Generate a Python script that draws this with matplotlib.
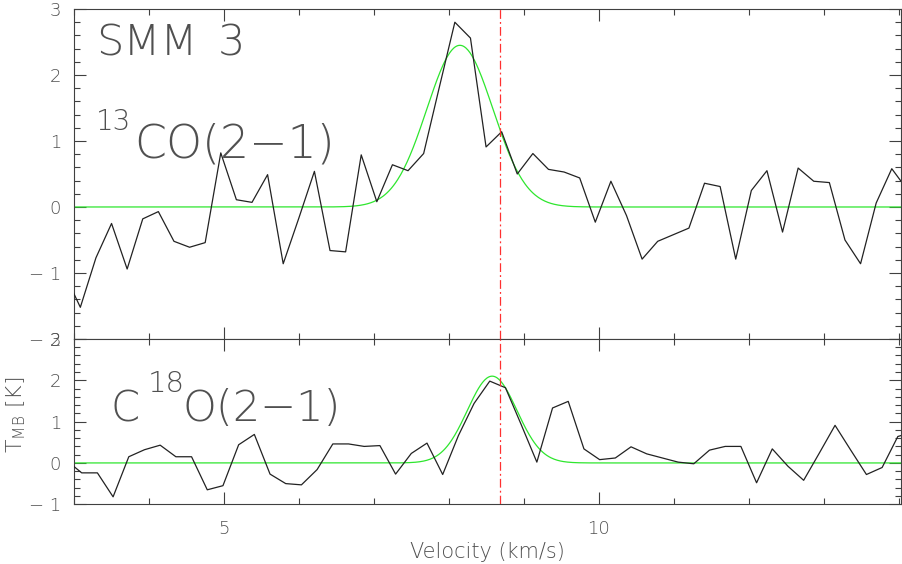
import numpy as np
import matplotlib
matplotlib.use("Agg")
import matplotlib.pyplot as plt
from matplotlib import font_manager as fm
from matplotlib.ticker import MultipleLocator, FuncFormatter

# 13CO(2-1) spectrum (channels from 2.883 km/s, 0.208 km/s wide)
co13_v0, co13_dv = 2.883, 0.208
co13_t = [-1.02, -1.52, -0.77, -0.25, -0.94, -0.18, -0.07, -0.52, -0.61, -0.54,
          0.82, 0.11, 0.07, 0.49, -0.86, -0.17, 0.54, -0.66, -0.68, 0.79,
          0.08, 0.64, 0.55, 0.81, 1.81, 2.80, 2.56, 0.91, 1.14, 0.50,
          0.81, 0.57, 0.53, 0.44, -0.23, 0.39, -0.13, -0.79, -0.52, -0.42,
          -0.32, 0.36, 0.31, -0.79, 0.25, 0.55, -0.38, 0.59, 0.39, 0.37,
          -0.50, -0.86, 0.06, 0.58, 0.26]

# C18O(2-1) spectrum (channels from 2.900 km/s, 0.2092 km/s wide)
c18o_v0, c18o_dv = 2.900, 0.2092
c18o_t = [0.07, -0.24, -0.24, -0.82, 0.15, 0.32, 0.43, 0.15, 0.15, -0.65,
          -0.55, 0.44, 0.69, -0.27, -0.50, -0.53, -0.16, 0.46, 0.46, 0.40,
          0.42, -0.27, 0.23, 0.48, -0.28, 0.66, 1.44, 1.98, 1.82, 0.93,
          0.02, 1.33, 1.49, 0.34, 0.08, 0.12, 0.39, 0.22, 0.12, 0.02,
          -0.02, 0.31, 0.40, 0.40, -0.48, 0.34, -0.08, -0.42, 0.24, 0.91,
          0.31, -0.28, -0.11, 0.64, 0.75]

# gaussian fits: amplitude, centre, sigma
co13_fit = (2.45, 8.15, 0.44)
c18o_fit = (2.10, 8.58, 0.33)
v_sys = 8.69

xmin, xmax = 3.0, 14.03
txt_col = "#505050"
ax_col = "#404040"


def find_light_font():
    # thin strokes look closer to the plotting package's vector font
    best = ('DejaVu Sans', 400)
    for fam in ['DejaVu Sans', 'Roboto', 'Lato', 'Open Sans', 'Noto Sans', 'Inter']:
        for f in fm.fontManager.ttflist:
            if f.name != fam:
                continue
            w = f.weight
            if isinstance(w, str):
                w = fm.weight_dict.get(w, 400)
            if 150 <= w <= 300 and abs(w - 250) < abs(best[1] - 250):
                best = (fam, w)
        if best[1] < 400:
            break
    return best


light_fam, light_w = find_light_font()
plt.rcParams['font.family'] = [light_fam, 'DejaVu Sans']
plt.rcParams['font.weight'] = light_w
plt.rcParams['axes.labelweight'] = light_w
plt.rcParams['mathtext.fontset'] = 'custom'
plt.rcParams['mathtext.rm'] = light_fam


def gauss(x, a, x0, s):
    return a * np.exp(-(x - x0) ** 2 / (2 * s ** 2))


def ylab(val, pos):
    if abs(val) < 1e-9:
        return "0"
    if val < 0:
        return "\u2212 %d" % abs(round(val))
    return "%d" % round(val)


def style_axes(ax, ylo, yhi):
    ax.set_xlim(xmin, xmax)
    ax.set_ylim(ylo, yhi)
    ax.xaxis.set_major_locator(MultipleLocator(5))
    ax.xaxis.set_minor_locator(MultipleLocator(1))
    ax.yaxis.set_major_locator(MultipleLocator(1))
    ax.yaxis.set_minor_locator(MultipleLocator(0.2))
    ax.yaxis.set_major_formatter(FuncFormatter(ylab))
    ax.tick_params(which='both', direction='in', top=True, right=True,
                   color=ax_col, width=0.8, labelcolor=txt_col, labelsize=13)
    ax.tick_params(which='major', length=8.5)
    ax.tick_params(which='minor', length=4.5)
    ax.tick_params(axis='y', pad=9)
    ax.tick_params(axis='x', pad=11)
    for s in ax.spines.values():
        s.set_color(ax_col)
        s.set_linewidth(0.8)


def px_text(x, y, s, size, **kw):
    # place text by reference pixel position (left, baseline)
    opts = dict(ha='left', va='baseline')
    opts.update(kw)
    fig.text(x / 902, 1 - y / 564, s, fontsize=size, color=txt_col, **opts)


fig = plt.figure(figsize=(9.02, 5.64), dpi=100)
ax1 = fig.add_axes([0.0815, 0.399, 0.9174, 0.585])
ax2 = fig.add_axes([0.0815, 0.1059, 0.9174, 0.2931])

xx = np.linspace(xmin, xmax, 800)

v1 = co13_v0 + co13_dv * np.arange(len(co13_t))
ax1.plot(xx, gauss(xx, *co13_fit), color='#2ee62e', lw=0.9, zorder=2)
ax1.plot(v1, co13_t, color='#222222', lw=0.9, zorder=3)
ax1.axvline(v_sys, color='#ff3030', lw=0.9, dashes=[7, 2.5, 1.5, 2.5], zorder=4)
style_axes(ax1, -2, 3)
ax1.tick_params(axis='x', labelbottom=False)

v2 = c18o_v0 + c18o_dv * np.arange(len(c18o_t))
ax2.plot(xx, gauss(xx, *c18o_fit), color='#2ee62e', lw=0.9, zorder=2)
ax2.plot(v2, c18o_t, color='#222222', lw=0.9, zorder=3)
ax2.axvline(v_sys, color='#ff3030', lw=0.9, dashes=[7, 2.5, 1.5, 2.5], zorder=4)
style_axes(ax2, -1, 3)

px_text(96, 56, "SMM", 31)
px_text(218, 56, "3", 31)
px_text(96, 130, "13", 20)
px_text(134, 158, "CO(2\u22121)", 33)
px_text(111, 421, "C", 30)
px_text(148, 392, "18", 21)
px_text(182, 421, "O(2\u22121)", 31)

ax2.set_xlabel("Velocity (km/s)", fontsize=15, color=txt_col, labelpad=3)
px_text(22, 415, r"T$_{\mathrm{MB}}$ [K]", 16, rotation=90,
        rotation_mode='anchor', ha='center')

fig.savefig("out.png", dpi=100)
